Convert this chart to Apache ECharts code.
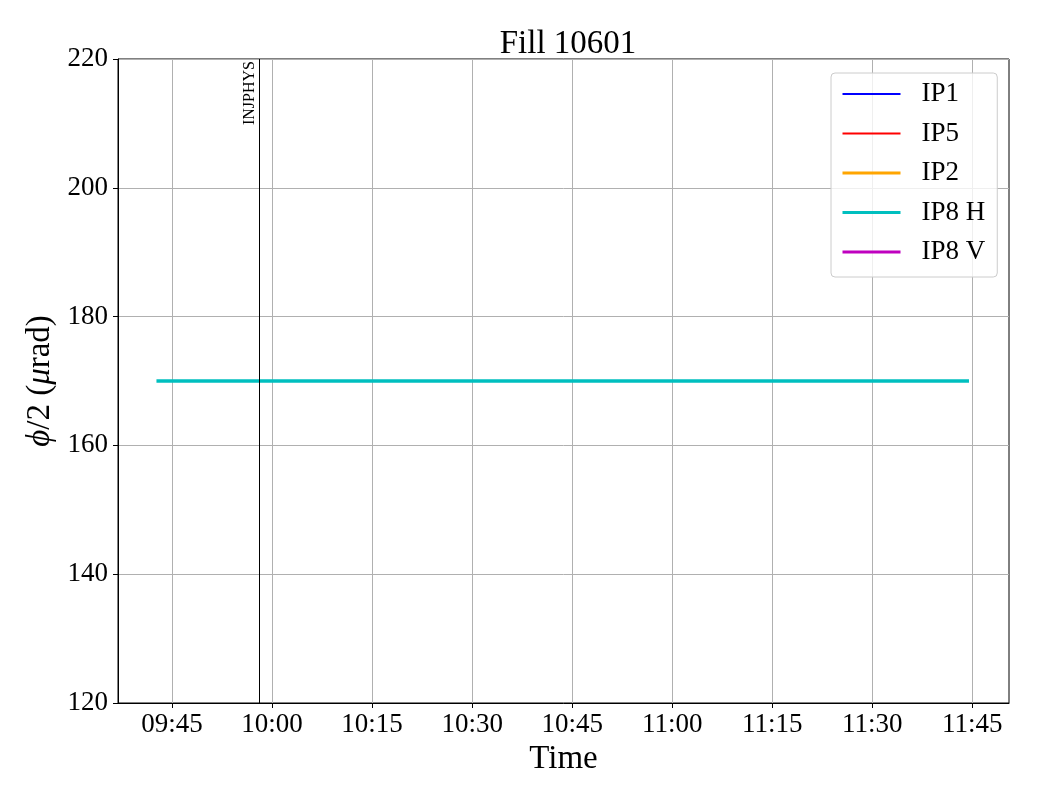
<!DOCTYPE html>
<html>
<head>
<meta charset="utf-8">
<script src="https://cdn.jsdelivr.net/npm/echarts@6/dist/echarts.min.js"></script>
<style>html,body{margin:0;padding:0;background:#fff}#c{width:1040px;height:800px}</style>
</head>
<body>
<div id="c"></div>
<script>
const seriesNames = ['IP1', 'IP5', 'IP2', 'IP8 H', 'IP8 V'];
const seriesColors = ['#0000ff', '#ff0000', '#ffa500', '#00bfbf', '#bf00bf'];
const ip1Times = [], ip1Values = [];
const ip5Times = [], ip5Values = [];
const ip2Times = [], ip2Values = [];
const ip8hTimes = ['2025-05-10 09:42:40', '2025-05-10 11:44:30'];
const ip8hValues = [170, 170];
const ip8vTimes = [], ip8vValues = [];
const eventTimes = ['2025-05-10 09:58:07'];
const eventLabels = ['INJPHYS'];
const xTickTimes = ['2025-05-10 09:45', '2025-05-10 10:00', '2025-05-10 10:15', '2025-05-10 10:30',
  '2025-05-10 10:45', '2025-05-10 11:00', '2025-05-10 11:15', '2025-05-10 11:30', '2025-05-10 11:45'];
const xTickLabels = ['09:45', '10:00', '10:15', '10:30', '10:45', '11:00', '11:15', '11:30', '11:45'];
const xMinStr = '2025-05-10 09:36:54';
const xMaxStr = '2025-05-10 11:50:30';
const yMin = 120, yMax = 220, yStep = 20;

// x values: minutes since midnight
const M = s => { const m = s.match(/(\d+):(\d+)(?::(\d+))?$/); return (+m[1]) * 60 + (+m[2]) + (m[3] ? (+m[3]) / 60 : 0); };
const pairs = (t, v) => t.map((s, i) => [M(s), v[i]]);
const allData = [
  pairs(ip1Times, ip1Values), pairs(ip5Times, ip5Values), pairs(ip2Times, ip2Values),
  pairs(ip8hTimes, ip8hValues), pairs(ip8vTimes, ip8vValues)
];
const widths = [2, 2, 3, 3, 3];
const FONT = 'Liberation Serif';
const tickVals = xTickTimes.map(M);
const labelFor = v => { const i = tickVals.findIndex(t => Math.abs(t - v) < 1e-6); return i >= 0 ? xTickLabels[i] : ''; };

const series = seriesNames.map((n, i) => ({
  name: n, type: 'line', data: allData[i], symbol: 'none',
  color: seriesColors[i],
  lineStyle: { color: seriesColors[i], width: widths[i] === 3 ? 3.3 : widths[i] },
  z: 3
}));
series[3].markLine = {
  silent: true, symbol: ['none', 'none'],
  lineStyle: { color: '#000', width: 1, type: 'solid' },
  label: { show: true, position: 'insideEndTop', formatter: p => p.name, color: '#000',
    fontFamily: FONT, fontSize: 16, distance: 2 },
  emphasis: { disabled: true },
  data: eventTimes.map((t, i) => ({ xAxis: M(t), name: eventLabels[i] }))
};

const chart = echarts.init(document.getElementById('c'), null, { renderer: 'canvas' });
chart.setOption({
  animation: false,
  backgroundColor: '#fff',
  title: { text: 'Fill 10601', left: 563, textAlign: 'center', top: 23,
    textStyle: { fontFamily: FONT, fontSize: 33, fontWeight: 'normal', color: '#000' } },
  grid: { left: 118, right: 31, top: 59, bottom: 97, show: true, borderColor: '#000', borderWidth: 1, containLabel: false },
  legend: {
    orient: 'vertical', left: 831, top: 73,
    data: seriesNames.map((n, i) => ({ name: n, lineStyle: { width: widths[i], color: seriesColors[i] } })),
    itemWidth: 58, itemHeight: 14, itemGap: 9.5,
    padding: [6, 12, 10, 10],
    itemStyle: { opacity: 0 },
    backgroundColor: 'rgba(255,255,255,0.8)', borderColor: '#cccccc', borderWidth: 1, borderRadius: 4,
    textStyle: { fontFamily: FONT, fontSize: 27, color: '#000', lineHeight: 30, padding: [0, 0, 0, 16] },
    selectedMode: false
  },
  xAxis: {
    type: 'value', min: M(xMinStr), max: M(xMaxStr),
    name: 'Time', nameLocation: 'middle', nameGap: 33,
    nameTextStyle: { fontFamily: FONT, fontSize: 33, color: '#000' },
    axisLine: { show: true, onZero: false, lineStyle: { color: '#000', width: 1 } },
    axisTick: { show: true, length: 5, lineStyle: { color: '#000' }, customValues: tickVals },
    axisLabel: { customValues: tickVals, fontFamily: FONT, fontSize: 27, color: '#000', margin: 8,
      formatter: labelFor },
    splitLine: { show: true, lineStyle: { color: '#b0b0b0', width: 1 } },
    minorTick: { show: false }
  },
  yAxis: {
    type: 'value', min: yMin, max: yMax, interval: yStep,
    name: '{i|ϕ}/2 ({i|μ}rad)', nameLocation: 'middle', nameGap: 54,
    nameTextStyle: { fontFamily: FONT, fontSize: 33, color: '#000',
      rich: { i: { fontFamily: FONT, fontSize: 33, fontStyle: 'italic', color: '#000' } } },
    axisLine: { show: true, onZero: false, lineStyle: { color: '#000', width: 1 } },
    axisTick: { show: true, length: 5, lineStyle: { color: '#000' } },
    axisLabel: { fontFamily: FONT, fontSize: 27, color: '#000', margin: 10 },
    splitLine: { show: true, lineStyle: { color: '#b0b0b0', width: 1 } }
  },
  series: series
});
</script>
</body>
</html>
